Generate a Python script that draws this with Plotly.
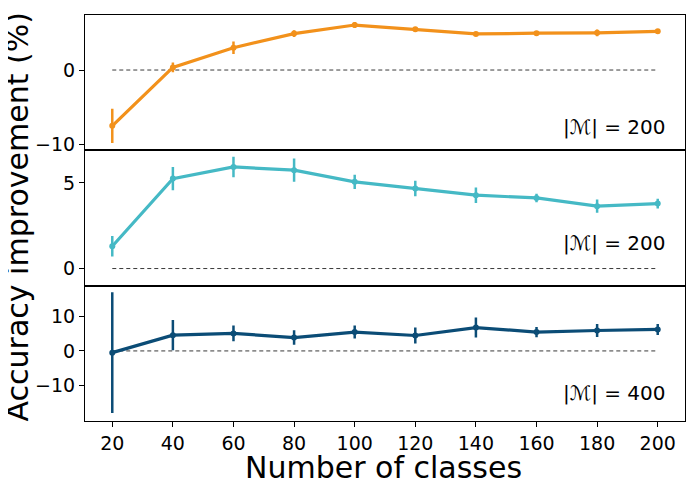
import plotly.graph_objects as go
from plotly.subplots import make_subplots

classes = [20, 40, 60, 80, 100, 120, 140, 160, 180, 200]

m200a_mean = [-7.5, 0.35, 3.0, 4.9, 6.05, 5.5, 4.85, 4.95, 5.0, 5.2]
m200a_err = [2.3, 0.65, 0.85, 0.45, 0.4, 0.3, 0.2, 0.25, 0.45, 0.2]

m200b_mean = [1.3, 5.25, 5.93, 5.74, 5.06, 4.67, 4.28, 4.12, 3.64, 3.79]
m200b_err = [0.6, 0.68, 0.6, 0.68, 0.42, 0.45, 0.45, 0.25, 0.39, 0.29]

m400_mean = [-0.5, 4.6, 5.1, 3.9, 5.5, 4.5, 6.8, 5.5, 5.95, 6.25]
m400_err = [17.6, 4.4, 2.3, 2.1, 1.9, 2.3, 2.9, 1.5, 1.9, 1.6]

panel_labels = ["|ℳ| = 200", "|ℳ| = 200", "|ℳ| = 400"]
colors = ["#F2911B", "#45B9C5", "#0B4C76"]
y_ranges = [[-10.8, 7.4], [-1.0, 6.9], [-20.4, 19.0]]
y_ticks = [[-10, 0], [0, 5], [-10, 0, 10]]
x_ticks = classes
label_y = [0.172, 0.316, 0.207]

series = [(m200a_mean, m200a_err), (m200b_mean, m200b_err), (m400_mean, m400_err)]

FONT = "DejaVu Sans"

fig = make_subplots(rows=3, cols=1, shared_xaxes=True, vertical_spacing=0)

for i, (mean, err) in enumerate(series):
    r = i + 1
    fig.add_trace(go.Scatter(
        x=[classes[0], classes[-1]], y=[0, 0], mode="lines",
        line=dict(color="#222222", width=0.9, dash="4px,3px"),
        showlegend=False, hoverinfo="skip"), row=r, col=1)
    fig.add_trace(go.Scatter(
        x=classes, y=mean, mode="lines+markers",
        line=dict(color=colors[i], width=3.2),
        marker=dict(color=colors[i], size=6),
        error_y=dict(type="data", array=err, visible=True, color=colors[i],
                     thickness=2.5, width=0),
        showlegend=False), row=r, col=1)
    fig.update_yaxes(range=y_ranges[i], tickvals=y_ticks[i], row=r, col=1)
    yref = "y domain" if r == 1 else f"y{r} domain"
    xref = "x domain" if r == 1 else f"x{r} domain"
    fig.add_annotation(text=panel_labels[i], xref=xref, yref=yref,
                       x=0.972, y=label_y[i], xanchor="right", yanchor="middle",
                       showarrow=False, font=dict(family=FONT, size=20, color="black"))

axis_style = dict(showline=True, linecolor="black", linewidth=1, mirror=True,
                  showgrid=False, zeroline=False, ticks="outside", ticklen=5,
                  tickcolor="black", tickfont=dict(family=FONT, size=19, color="black"))

fig.update_yaxes(**axis_style)
fig.update_xaxes(**axis_style)
fig.update_xaxes(range=[11, 209], tickvals=x_ticks)
fig.update_xaxes(ticks="", row=1, col=1)
fig.update_xaxes(ticks="", row=2, col=1)

fig.add_annotation(text="Accuracy improvement (%)", xref="paper", yref="paper",
                   x=-0.113, y=0.502, xanchor="center", yanchor="middle", textangle=-90,
                   showarrow=False, font=dict(family=FONT, size=30, color="black"))
fig.add_annotation(text="Number of classes", xref="paper", yref="paper",
                   x=0.497, y=-0.115, xanchor="center", yanchor="middle",
                   showarrow=False, font=dict(family=FONT, size=30, color="black"))

# page body has an 8px default margin, so the figure is 692x492
fig.update_layout(width=692, height=492, margin=dict(l=77, r=15, t=7, b=79),
                  paper_bgcolor="white", plot_bgcolor="white",
                  font=dict(family=FONT, color="black"))

fig.write_html("out.html")
